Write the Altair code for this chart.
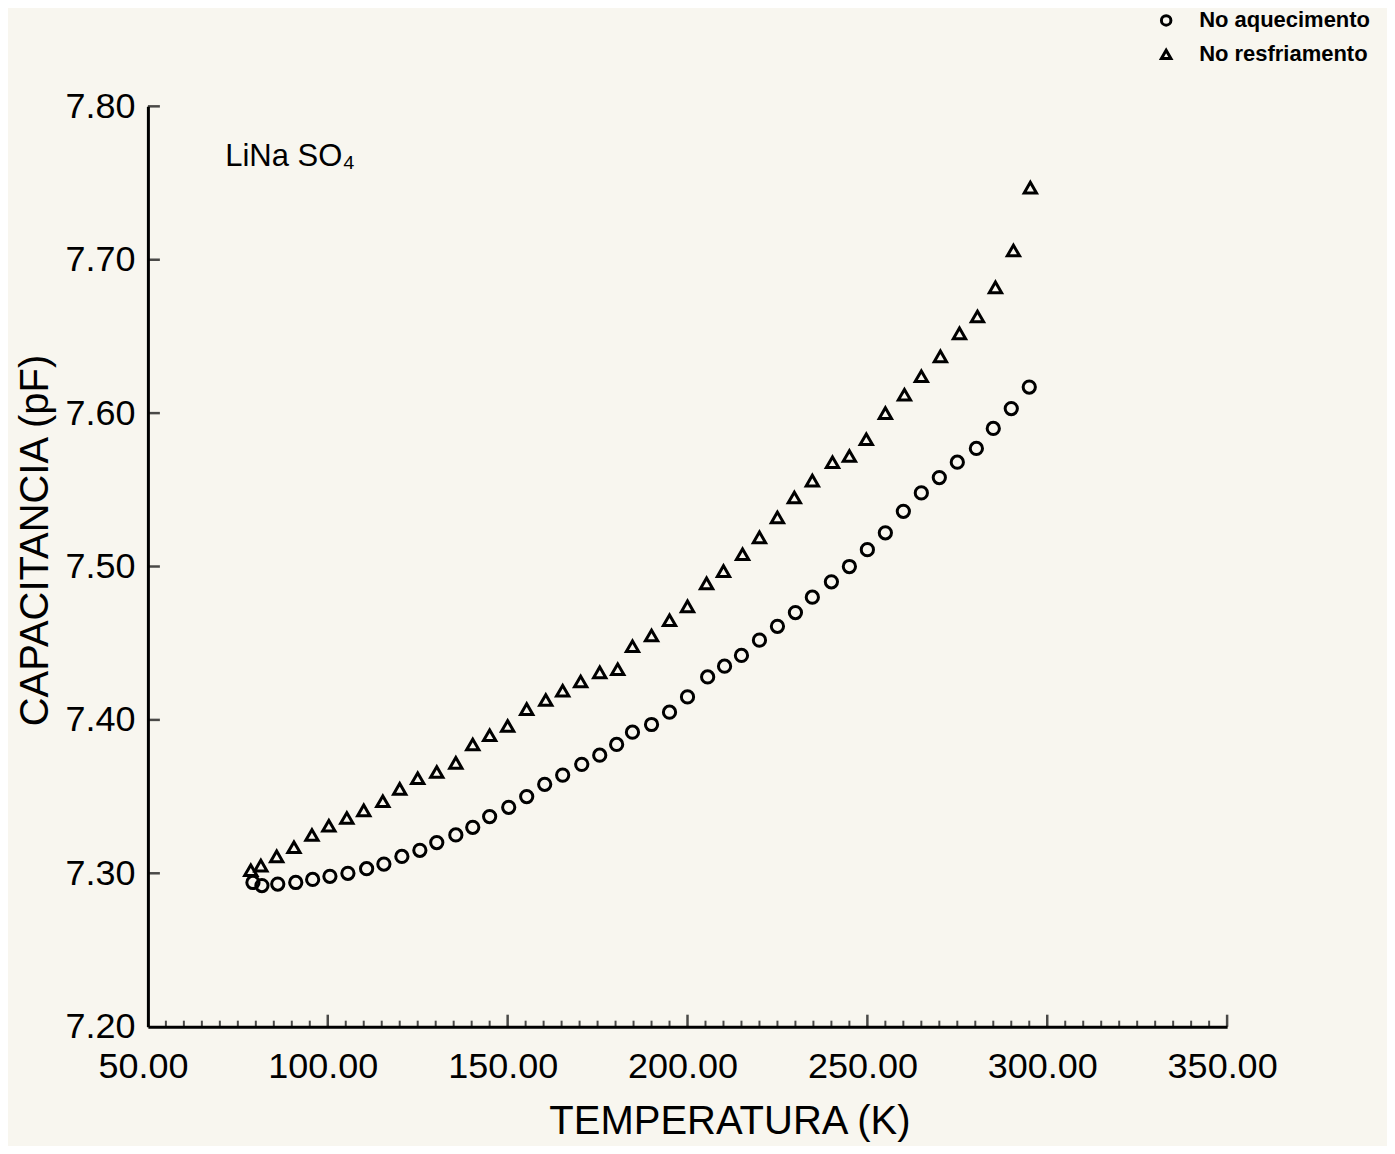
import altair as alt
import pandas as pd

# ---- data ----
temp_aquec = [79.2, 81.7, 86.1, 91.1, 95.8, 100.6, 105.6, 110.8, 115.6, 120.6,
              125.6, 130.3, 135.6, 140.3, 145.0, 150.3, 155.3, 160.3, 165.3, 170.6,
              175.6, 180.3, 184.7, 190.0, 195.0, 200.0, 205.6, 210.3, 215.0, 220.0,
              225.0, 230.0, 234.7, 240.0, 245.0, 250.0, 255.0, 260.0, 265.0, 270.0,
              275.0, 280.3, 285.0, 290.0, 295.0]
cap_aquec = [7.294, 7.292, 7.293, 7.294, 7.296, 7.298, 7.300, 7.303, 7.306, 7.311,
             7.315, 7.320, 7.325, 7.330, 7.337, 7.343, 7.350, 7.358, 7.364, 7.371,
             7.377, 7.384, 7.392, 7.397, 7.405, 7.415, 7.428, 7.435, 7.442, 7.452,
             7.461, 7.470, 7.480, 7.490, 7.500, 7.511, 7.522, 7.536, 7.548, 7.558,
             7.568, 7.577, 7.590, 7.603, 7.617]
temp_resf = [78.6, 81.4, 85.8, 90.6, 95.6, 100.3, 105.3, 110.0, 115.3, 120.0,
             125.0, 130.3, 135.6, 140.3, 145.0, 150.0, 155.3, 160.6, 165.3, 170.3,
             175.6, 180.6, 184.7, 190.0, 195.0, 200.0, 205.3, 210.0, 215.3, 220.0,
             225.0, 229.7, 234.7, 240.3, 245.0, 249.7, 255.0, 260.3, 265.0, 270.3,
             275.6, 280.6, 285.6, 290.6, 295.3]
cap_resf = [7.302, 7.305, 7.311, 7.317, 7.325, 7.331, 7.336, 7.341, 7.347, 7.355,
            7.362, 7.366, 7.372, 7.384, 7.390, 7.396, 7.407, 7.413, 7.419, 7.425,
            7.431, 7.433, 7.448, 7.455, 7.465, 7.474, 7.489, 7.497, 7.508, 7.519,
            7.532, 7.545, 7.556, 7.568, 7.572, 7.583, 7.600, 7.612, 7.624, 7.637,
            7.652, 7.663, 7.682, 7.706, 7.747]
series_names = ["No aquecimento", "No resfriamento"]
x_tick_values = [50, 100, 150, 200, 250, 300, 350]
y_tick_values = [7.20, 7.30, 7.40, 7.50, 7.60, 7.70, 7.80]
x_major_inner = [100, 150, 200, 250, 300, 350]
x_minor_inner = [v for v in range(55, 350, 5) if v % 50 != 0]
y_inner = [7.30, 7.40, 7.50, 7.60, 7.70, 7.80]
compound = "LiNa SO\u2084"

FONT = "Liberation Sans"

df = pd.concat([
    pd.DataFrame({"T": temp_aquec, "C": cap_aquec, "serie": series_names[0]}),
    pd.DataFrame({"T": temp_resf, "C": cap_resf, "serie": series_names[1]}),
], ignore_index=True)

xscale = alt.Scale(domain=[50, 350], nice=False, zero=False)
yscale = alt.Scale(domain=[7.2, 7.8], nice=False, zero=False)

x_axis = alt.Axis(
    values=x_tick_values, format=".2f", title="TEMPERATURA (K)",
    labelPadding=23, labelOffset=-5, titleX=582, titleY=95, titleAlign="center",
    titleBaseline="middle")
y_axis = alt.Axis(
    values=y_tick_values, format=".2f", title="CAPACITANCIA (pF)",
    labelPadding=13, titleX=-112, titleY=434, titleAngle=270,
    titleAlign="center", titleBaseline="middle")

points = alt.Chart(df).mark_point(
    filled=False, size=150, strokeWidth=3, color="black", opacity=1
).encode(
    x=alt.X("T:Q", scale=xscale, axis=x_axis),
    y=alt.Y("C:Q", scale=yscale, axis=y_axis),
    shape=alt.Shape("serie:N",
                    scale=alt.Scale(domain=series_names, range=["circle", "triangle-up"]),
                    legend=alt.Legend(title=None, orient="none", legendX=1008, legendY=-97,
                                      labelFont=FONT, labelFontSize=22, labelFontWeight="bold",
                                      labelColor="black", labelLimit=0, symbolSize=90,
                                      symbolStrokeWidth=3, symbolStrokeColor="black",
                                      labelOffset=22, rowPadding=12, padding=0)),
)

minor_ticks = alt.Chart(pd.DataFrame({"T": x_minor_inner})).mark_tick(
    orient="vertical", size=6, thickness=2, color="black", yOffset=-3
).encode(x=alt.X("T:Q", scale=xscale, axis=x_axis), y=alt.datum(7.2))

major_ticks = alt.Chart(pd.DataFrame({"T": x_major_inner})).mark_tick(
    orient="vertical", size=12, thickness=2.5, color="black", yOffset=-6
).encode(x=alt.X("T:Q", scale=xscale, axis=x_axis), y=alt.datum(7.2))

y_ticks = alt.Chart(pd.DataFrame({"C": y_inner})).mark_tick(
    orient="horizontal", size=12, thickness=2.5, color="black", xOffset=6
).encode(y=alt.Y("C:Q", scale=yscale, axis=y_axis), x=alt.datum(50))

label = alt.Chart(pd.DataFrame({"lbl": [compound]})).mark_text(
    align="left", baseline="middle", fontSize=31, font=FONT, color="black"
).encode(x=alt.datum(71.5), y=alt.datum(7.767), text="lbl:N")

chart = alt.layer(points, minor_ticks, major_ticks, y_ticks, label).properties(
    width=1080, height=921,
    autosize=alt.AutoSizeParams(type="none"),
    padding={"left": 140, "top": 98, "right": 160, "bottom": 119},
    background="#f8f6ef",
).configure_view(stroke=None).configure_axis(
    domainColor="black", domainWidth=3, ticks=False, tickSize=0, grid=False,
    labelFont=FONT, labelFontSize=36, labelColor="black", labelFlush=False,
    labelOverlap=False, titleFont=FONT, titleFontSize=40, titleFontWeight="normal",
    titleColor="black",
)

chart.save("out.html", embed_options={"renderer": "svg", "actions": False})
